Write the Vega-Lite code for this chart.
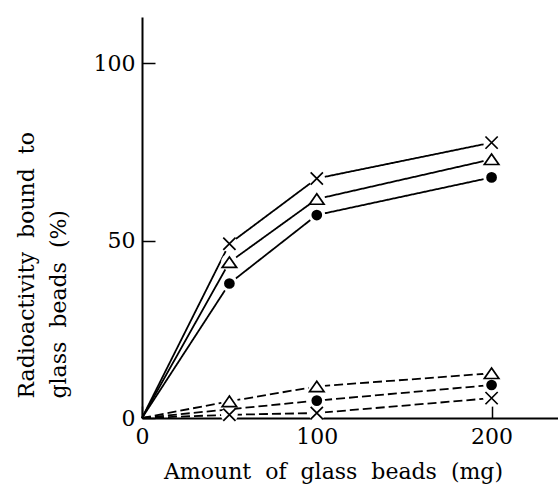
{
  "$schema": "https://vega.github.io/schema/vega-lite/v6.json",
  "width": 416,
  "height": 401,
  "autosize": "none",
  "padding": {"left": 142, "top": 17, "right": 0, "bottom": 67},
  "background": "white",
  "config": {
    "view": {"stroke": null},
    "font": "DejaVu Serif",
    "axis": {
      "domainColor": "black",
      "domainWidth": 2,
      "tickColor": "black",
      "tickWidth": 1.5,
      "labelColor": "black",
      "titleColor": "black",
      "labelFont": "DejaVu Serif",
      "titleFont": "DejaVu Serif",
      "labelFontSize": 22,
      "titleFontSize": 22,
      "titleFontWeight": "normal",
      "grid": false
    }
  },
  "data": {
    "values": [
      {"series": "solid-x", "style": "solid", "marker": "none", "x": 0, "y": 0},
      {"series": "solid-x", "style": "solid", "marker": "x", "x": 50, "y": 49.1},
      {"series": "solid-x", "style": "solid", "marker": "x", "x": 100, "y": 67.5},
      {"series": "solid-x", "style": "solid", "marker": "x", "x": 200, "y": 77.6},
      {"series": "solid-tri", "style": "solid", "marker": "none", "x": 0, "y": 0},
      {"series": "solid-tri", "style": "solid", "marker": "tri", "x": 50, "y": 43.9},
      {"series": "solid-tri", "style": "solid", "marker": "tri", "x": 100, "y": 61.7},
      {"series": "solid-tri", "style": "solid", "marker": "tri", "x": 200, "y": 72.9},
      {"series": "solid-dot", "style": "solid", "marker": "none", "x": 0, "y": 0},
      {"series": "solid-dot", "style": "solid", "marker": "dot", "x": 50, "y": 37.9},
      {"series": "solid-dot", "style": "solid", "marker": "dot", "x": 100, "y": 57.2},
      {"series": "solid-dot", "style": "solid", "marker": "dot", "x": 200, "y": 67.8},
      {"series": "dash-tri", "style": "dashed", "marker": "none", "x": 0, "y": 0},
      {"series": "dash-tri", "style": "dashed", "marker": "tri", "x": 50, "y": 4.7},
      {"series": "dash-tri", "style": "dashed", "marker": "tri", "x": 100, "y": 8.9},
      {"series": "dash-tri", "style": "dashed", "marker": "tri", "x": 200, "y": 12.6},
      {"series": "dash-dot", "style": "dashed", "marker": "none", "x": 0, "y": 0},
      {"series": "dash-dot", "style": "dashed", "marker": "dot", "x": 100, "y": 4.9},
      {"series": "dash-dot", "style": "dashed", "marker": "dot", "x": 200, "y": 9.3},
      {"series": "dash-x", "style": "dashed", "marker": "none", "x": 0, "y": 0},
      {"series": "dash-x", "style": "dashed", "marker": "x", "x": 50, "y": 0.9},
      {"series": "dash-x", "style": "dashed", "marker": "x", "x": 100, "y": 1.4},
      {"series": "dash-x", "style": "dashed", "marker": "x", "x": 200, "y": 5.6}
    ]
  },
  "encoding": {
    "x": {
      "field": "x",
      "type": "quantitative",
      "scale": {"domain": [0, 238], "nice": false, "zero": false},
      "axis": {
        "values": [0, 100, 200],
        "tickSize": -12,
        "labelPadding": 20,
        "labelBaseline": "top",
        "labelFlush": false,
        "title": "Amount\u00a0 of\u00a0 glass\u00a0 beads\u00a0 (mg)",
        "titleX": 191,
        "titleY": 60,
        "titleAlign": "center",
        "titleBaseline": "alphabetic",
        "titleAnchor": null
      }
    },
    "y": {
      "field": "y",
      "type": "quantitative",
      "scale": {"domain": [0, 113], "nice": false, "zero": false},
      "axis": {
        "values": [0, 50, 100],
        "tickSize": -13,
        "labelPadding": 20,
        "labelFlush": false,
        "labelBaseline": "middle",
        "title": ["Radioactivity\u00a0 bound\u00a0 to", "glass\u00a0 beads\u00a0 (%)"],
        "titleAngle": -90,
        "titleX": -109,
        "titleY": 381,
        "titleAlign": "left",
        "titleBaseline": "alphabetic",
        "titleLineHeight": 32,
        "titleAnchor": null
      }
    }
  },
  "layer": [
    {
      "mark": {"type": "line", "color": "black", "strokeWidth": 1.8},
      "encoding": {
        "detail": {"field": "series"},
        "strokeDash": {
          "field": "style",
          "type": "nominal",
          "scale": {"domain": ["solid", "dashed"], "range": [[1, 0], [9, 4]]},
          "legend": null
        }
      }
    },
    {
      "transform": [{"filter": "datum.marker != 'none'"}],
      "mark": {"type": "circle", "color": "white", "opacity": 1, "size": 280}
    },
    {
      "transform": [{"filter": "datum.marker == 'x'"}],
      "mark": {"type": "point", "shape": "M-1,-1L1,1M-1,1L1,-1", "filled": false, "stroke": "black", "strokeWidth": 1.7, "opacity": 1, "size": 150}
    },
    {
      "transform": [{"filter": "datum.marker == 'tri'"}],
      "mark": {"type": "point", "shape": "M0,-0.72L1,0.72L-1,0.72Z", "fill": "white", "stroke": "black", "strokeWidth": 1.7, "opacity": 1, "size": 210}
    },
    {
      "transform": [{"filter": "datum.marker == 'dot'"}],
      "mark": {"type": "circle", "color": "black", "opacity": 1, "size": 115}
    }
  ]
}
